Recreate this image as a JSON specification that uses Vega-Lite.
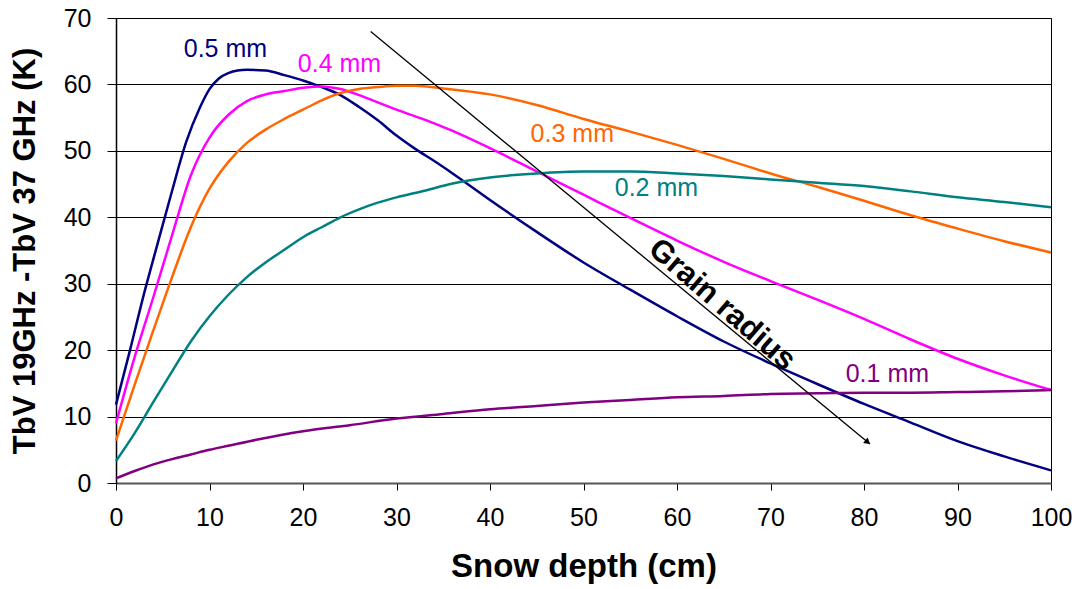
{
  "$schema": "https://vega.github.io/schema/vega-lite/v6.json",
  "width": 935,
  "height": 465,
  "autosize": {"type": "none"},
  "padding": {"left": 116, "top": 18, "right": 24, "bottom": 106},
  "background": "white",
  "config": {
    "view": {"stroke": "#000", "strokeWidth": 1},
    "font": "Liberation Sans"
  },
  "datasets": {
    "curves": [
      {"series": "0.5 mm", "depth": 0, "tb": 11.8},
      {"series": "0.5 mm", "depth": 1.5, "tb": 20},
      {"series": "0.5 mm", "depth": 3, "tb": 28.5},
      {"series": "0.5 mm", "depth": 4.5, "tb": 36.3},
      {"series": "0.5 mm", "depth": 6, "tb": 44},
      {"series": "0.5 mm", "depth": 7.5, "tb": 51.3},
      {"series": "0.5 mm", "depth": 9, "tb": 56.6},
      {"series": "0.5 mm", "depth": 10, "tb": 59.3},
      {"series": "0.5 mm", "depth": 11, "tb": 60.9},
      {"series": "0.5 mm", "depth": 12, "tb": 61.7},
      {"series": "0.5 mm", "depth": 13, "tb": 62.1},
      {"series": "0.5 mm", "depth": 14, "tb": 62.2},
      {"series": "0.5 mm", "depth": 16, "tb": 62.1},
      {"series": "0.5 mm", "depth": 18, "tb": 61.4},
      {"series": "0.5 mm", "depth": 20, "tb": 60.6},
      {"series": "0.5 mm", "depth": 22, "tb": 59.6},
      {"series": "0.5 mm", "depth": 24, "tb": 58.4},
      {"series": "0.5 mm", "depth": 26, "tb": 56.6},
      {"series": "0.5 mm", "depth": 28, "tb": 54.6},
      {"series": "0.5 mm", "depth": 30, "tb": 52.3},
      {"series": "0.5 mm", "depth": 32, "tb": 50.3},
      {"series": "0.5 mm", "depth": 34, "tb": 48.5},
      {"series": "0.5 mm", "depth": 36, "tb": 46.6},
      {"series": "0.5 mm", "depth": 40, "tb": 42.6},
      {"series": "0.5 mm", "depth": 45, "tb": 37.8},
      {"series": "0.5 mm", "depth": 50, "tb": 33.2},
      {"series": "0.5 mm", "depth": 55, "tb": 29.1},
      {"series": "0.5 mm", "depth": 60, "tb": 25.1},
      {"series": "0.5 mm", "depth": 65, "tb": 21.3},
      {"series": "0.5 mm", "depth": 70, "tb": 18.0},
      {"series": "0.5 mm", "depth": 75, "tb": 14.9},
      {"series": "0.5 mm", "depth": 80, "tb": 11.9},
      {"series": "0.5 mm", "depth": 85, "tb": 9.1},
      {"series": "0.5 mm", "depth": 90, "tb": 6.3},
      {"series": "0.5 mm", "depth": 95, "tb": 4.0},
      {"series": "0.5 mm", "depth": 100, "tb": 1.9},

      {"series": "0.4 mm", "depth": 0, "tb": 9.0},
      {"series": "0.4 mm", "depth": 2, "tb": 19},
      {"series": "0.4 mm", "depth": 4, "tb": 28},
      {"series": "0.4 mm", "depth": 6, "tb": 37.3},
      {"series": "0.4 mm", "depth": 8, "tb": 46.3},
      {"series": "0.4 mm", "depth": 10, "tb": 52},
      {"series": "0.4 mm", "depth": 12, "tb": 55.4},
      {"series": "0.4 mm", "depth": 14, "tb": 57.5},
      {"series": "0.4 mm", "depth": 16, "tb": 58.5},
      {"series": "0.4 mm", "depth": 18, "tb": 59.0},
      {"series": "0.4 mm", "depth": 20, "tb": 59.5},
      {"series": "0.4 mm", "depth": 22, "tb": 59.7},
      {"series": "0.4 mm", "depth": 24, "tb": 59.3},
      {"series": "0.4 mm", "depth": 26, "tb": 58.4},
      {"series": "0.4 mm", "depth": 28, "tb": 57.3},
      {"series": "0.4 mm", "depth": 30, "tb": 56.2},
      {"series": "0.4 mm", "depth": 33, "tb": 54.7},
      {"series": "0.4 mm", "depth": 36, "tb": 53},
      {"series": "0.4 mm", "depth": 40, "tb": 50.4},
      {"series": "0.4 mm", "depth": 45, "tb": 46.9},
      {"series": "0.4 mm", "depth": 50, "tb": 43.4},
      {"series": "0.4 mm", "depth": 55, "tb": 39.9},
      {"series": "0.4 mm", "depth": 60, "tb": 36.5},
      {"series": "0.4 mm", "depth": 65, "tb": 33.3},
      {"series": "0.4 mm", "depth": 70, "tb": 30.4},
      {"series": "0.4 mm", "depth": 75, "tb": 27.6},
      {"series": "0.4 mm", "depth": 80, "tb": 24.7},
      {"series": "0.4 mm", "depth": 85, "tb": 21.6},
      {"series": "0.4 mm", "depth": 90, "tb": 18.7},
      {"series": "0.4 mm", "depth": 95, "tb": 16.2},
      {"series": "0.4 mm", "depth": 100, "tb": 14.0},

      {"series": "0.3 mm", "depth": 0, "tb": 6.4},
      {"series": "0.3 mm", "depth": 2, "tb": 14.8},
      {"series": "0.3 mm", "depth": 4, "tb": 23},
      {"series": "0.3 mm", "depth": 6, "tb": 31},
      {"series": "0.3 mm", "depth": 8, "tb": 38.5},
      {"series": "0.3 mm", "depth": 10, "tb": 44.3},
      {"series": "0.3 mm", "depth": 12, "tb": 48.3},
      {"series": "0.3 mm", "depth": 14, "tb": 51.2},
      {"series": "0.3 mm", "depth": 16, "tb": 53.2},
      {"series": "0.3 mm", "depth": 18, "tb": 54.8},
      {"series": "0.3 mm", "depth": 20, "tb": 56.2},
      {"series": "0.3 mm", "depth": 22, "tb": 57.6},
      {"series": "0.3 mm", "depth": 24, "tb": 58.7},
      {"series": "0.3 mm", "depth": 26, "tb": 59.3},
      {"series": "0.3 mm", "depth": 28, "tb": 59.6},
      {"series": "0.3 mm", "depth": 30, "tb": 59.8},
      {"series": "0.3 mm", "depth": 32, "tb": 59.8},
      {"series": "0.3 mm", "depth": 35, "tb": 59.4},
      {"series": "0.3 mm", "depth": 40, "tb": 58.5},
      {"series": "0.3 mm", "depth": 45, "tb": 56.9},
      {"series": "0.3 mm", "depth": 50, "tb": 54.8},
      {"series": "0.3 mm", "depth": 55, "tb": 52.9},
      {"series": "0.3 mm", "depth": 60, "tb": 50.9},
      {"series": "0.3 mm", "depth": 65, "tb": 48.8},
      {"series": "0.3 mm", "depth": 70, "tb": 46.6},
      {"series": "0.3 mm", "depth": 75, "tb": 44.6},
      {"series": "0.3 mm", "depth": 80, "tb": 42.5},
      {"series": "0.3 mm", "depth": 85, "tb": 40.3},
      {"series": "0.3 mm", "depth": 90, "tb": 38.3},
      {"series": "0.3 mm", "depth": 95, "tb": 36.4},
      {"series": "0.3 mm", "depth": 100, "tb": 34.7},

      {"series": "0.2 mm", "depth": 0, "tb": 3.3},
      {"series": "0.2 mm", "depth": 2, "tb": 7.5},
      {"series": "0.2 mm", "depth": 4, "tb": 12.2},
      {"series": "0.2 mm", "depth": 6, "tb": 16.8},
      {"series": "0.2 mm", "depth": 8, "tb": 21.3},
      {"series": "0.2 mm", "depth": 10, "tb": 25.1},
      {"series": "0.2 mm", "depth": 12, "tb": 28.3},
      {"series": "0.2 mm", "depth": 14, "tb": 31},
      {"series": "0.2 mm", "depth": 16, "tb": 33.2},
      {"series": "0.2 mm", "depth": 18, "tb": 35.1},
      {"series": "0.2 mm", "depth": 20, "tb": 37},
      {"series": "0.2 mm", "depth": 22, "tb": 38.5},
      {"series": "0.2 mm", "depth": 24, "tb": 40},
      {"series": "0.2 mm", "depth": 26, "tb": 41.2},
      {"series": "0.2 mm", "depth": 28, "tb": 42.2},
      {"series": "0.2 mm", "depth": 30, "tb": 43},
      {"series": "0.2 mm", "depth": 33, "tb": 44},
      {"series": "0.2 mm", "depth": 36, "tb": 45.1},
      {"series": "0.2 mm", "depth": 40, "tb": 46},
      {"series": "0.2 mm", "depth": 45, "tb": 46.6},
      {"series": "0.2 mm", "depth": 50, "tb": 46.9},
      {"series": "0.2 mm", "depth": 55, "tb": 46.9},
      {"series": "0.2 mm", "depth": 60, "tb": 46.6},
      {"series": "0.2 mm", "depth": 65, "tb": 46.2},
      {"series": "0.2 mm", "depth": 70, "tb": 45.7},
      {"series": "0.2 mm", "depth": 75, "tb": 45.2},
      {"series": "0.2 mm", "depth": 80, "tb": 44.7},
      {"series": "0.2 mm", "depth": 85, "tb": 43.9},
      {"series": "0.2 mm", "depth": 90, "tb": 43},
      {"series": "0.2 mm", "depth": 95, "tb": 42.3},
      {"series": "0.2 mm", "depth": 100, "tb": 41.5},

      {"series": "0.1 mm", "depth": 0, "tb": 0.7},
      {"series": "0.1 mm", "depth": 2, "tb": 1.8},
      {"series": "0.1 mm", "depth": 4, "tb": 2.8},
      {"series": "0.1 mm", "depth": 6, "tb": 3.6},
      {"series": "0.1 mm", "depth": 8, "tb": 4.3},
      {"series": "0.1 mm", "depth": 10, "tb": 5.0},
      {"series": "0.1 mm", "depth": 12, "tb": 5.6},
      {"series": "0.1 mm", "depth": 15, "tb": 6.5},
      {"series": "0.1 mm", "depth": 20, "tb": 7.8},
      {"series": "0.1 mm", "depth": 25, "tb": 8.7},
      {"series": "0.1 mm", "depth": 30, "tb": 9.7},
      {"series": "0.1 mm", "depth": 35, "tb": 10.4},
      {"series": "0.1 mm", "depth": 40, "tb": 11.1},
      {"series": "0.1 mm", "depth": 45, "tb": 11.6},
      {"series": "0.1 mm", "depth": 50, "tb": 12.1},
      {"series": "0.1 mm", "depth": 55, "tb": 12.5},
      {"series": "0.1 mm", "depth": 60, "tb": 12.9},
      {"series": "0.1 mm", "depth": 65, "tb": 13.1},
      {"series": "0.1 mm", "depth": 70, "tb": 13.4},
      {"series": "0.1 mm", "depth": 75, "tb": 13.5},
      {"series": "0.1 mm", "depth": 80, "tb": 13.6},
      {"series": "0.1 mm", "depth": 85, "tb": 13.6},
      {"series": "0.1 mm", "depth": 90, "tb": 13.7},
      {"series": "0.1 mm", "depth": 95, "tb": 13.8},
      {"series": "0.1 mm", "depth": 100, "tb": 14.0}
    ],
    "labels": [
      {"series": "0.5 mm", "depth": 11.7, "tb": 65.3},
      {"series": "0.4 mm", "depth": 23.9, "tb": 63.1},
      {"series": "0.3 mm", "depth": 48.8, "tb": 52.5},
      {"series": "0.2 mm", "depth": 57.8, "tb": 44.4},
      {"series": "0.1 mm", "depth": 82.5, "tb": 16.4}
    ],
    "arrow": [
      {"depth": 27.24, "tb": 67.97, "depth2": 80.64, "tb2": 5.87}
    ],
    "arrowhead": [
      {"depth": 80.4, "tb": 6.15}
    ],
    "note": [
      {"text": "Grain radius", "depth": 64.8, "tb": 26.8}
    ]
  },
  "layer": [
    {
      "data": {"name": "curves"},
      "mark": {"type": "line", "strokeWidth": 2.5, "interpolate": "monotone"},
      "encoding": {
        "x": {
          "field": "depth", "type": "quantitative",
          "scale": {"domain": [0, 100], "nice": false},
          "axis": {
            "title": "Snow depth (cm)",
            "values": [0, 10, 20, 30, 40, 50, 60, 70, 80, 90, 100],
            "grid": false,
            "tickSize": 7, "tickColor": "#000", "tickWidth": 1,
            "domainColor": "#555", "domainWidth": 2,
            "labelFontSize": 25, "labelColor": "#000", "labelPadding": 15, "labelFlush": false,
            "titleFontSize": 33, "titleFontWeight": "bold", "titleColor": "#000", "titlePadding": 20
          }
        },
        "y": {
          "field": "tb", "type": "quantitative",
          "scale": {"domain": [0, 70], "nice": false},
          "axis": {
            "title": "TbV 19GHz -TbV 37 GHz (K)",
            "values": [0, 10, 20, 30, 40, 50, 60, 70],
            "grid": true, "gridColor": "#000", "gridWidth": 1, "gridOpacity": 1,
            "tickSize": 9, "tickColor": "#000", "tickWidth": 1,
            "domainColor": "#000", "domainWidth": 1.5,
            "labelFontSize": 25, "labelColor": "#000", "labelPadding": 16,
            "titleFontSize": 31, "titleFontWeight": "bold", "titleColor": "#000", "titlePadding": 22
          }
        },
        "color": {
          "field": "series", "type": "nominal",
          "scale": {
            "domain": ["0.5 mm", "0.4 mm", "0.3 mm", "0.2 mm", "0.1 mm"],
            "range": ["#000080", "#FF00FF", "#FF6600", "#008080", "#800080"]
          },
          "legend": null
        }
      }
    },
    {
      "data": {"name": "labels"},
      "mark": {"type": "text", "fontSize": 25, "align": "center", "baseline": "middle"},
      "encoding": {
        "x": {"field": "depth", "type": "quantitative"},
        "y": {"field": "tb", "type": "quantitative"},
        "text": {"field": "series"},
        "color": {"field": "series", "type": "nominal"}
      }
    },
    {
      "data": {"name": "arrow"},
      "mark": {"type": "rule", "color": "#000", "strokeWidth": 1.3},
      "encoding": {
        "x": {"field": "depth", "type": "quantitative"},
        "y": {"field": "tb", "type": "quantitative"},
        "x2": {"field": "depth2"},
        "y2": {"field": "tb2"}
      }
    },
    {
      "data": {"name": "arrowhead"},
      "mark": {"type": "point", "shape": "triangle-right", "filled": true, "color": "#000", "opacity": 1, "size": 50, "angle": 39.5},
      "encoding": {
        "x": {"field": "depth", "type": "quantitative"},
        "y": {"field": "tb", "type": "quantitative"}
      }
    },
    {
      "data": {"name": "note"},
      "mark": {"type": "text", "fontSize": 31, "fontWeight": "bold", "angle": 41, "align": "center", "baseline": "middle", "color": "#000"},
      "encoding": {
        "x": {"field": "depth", "type": "quantitative"},
        "y": {"field": "tb", "type": "quantitative"},
        "text": {"field": "text"}
      }
    }
  ]
}
